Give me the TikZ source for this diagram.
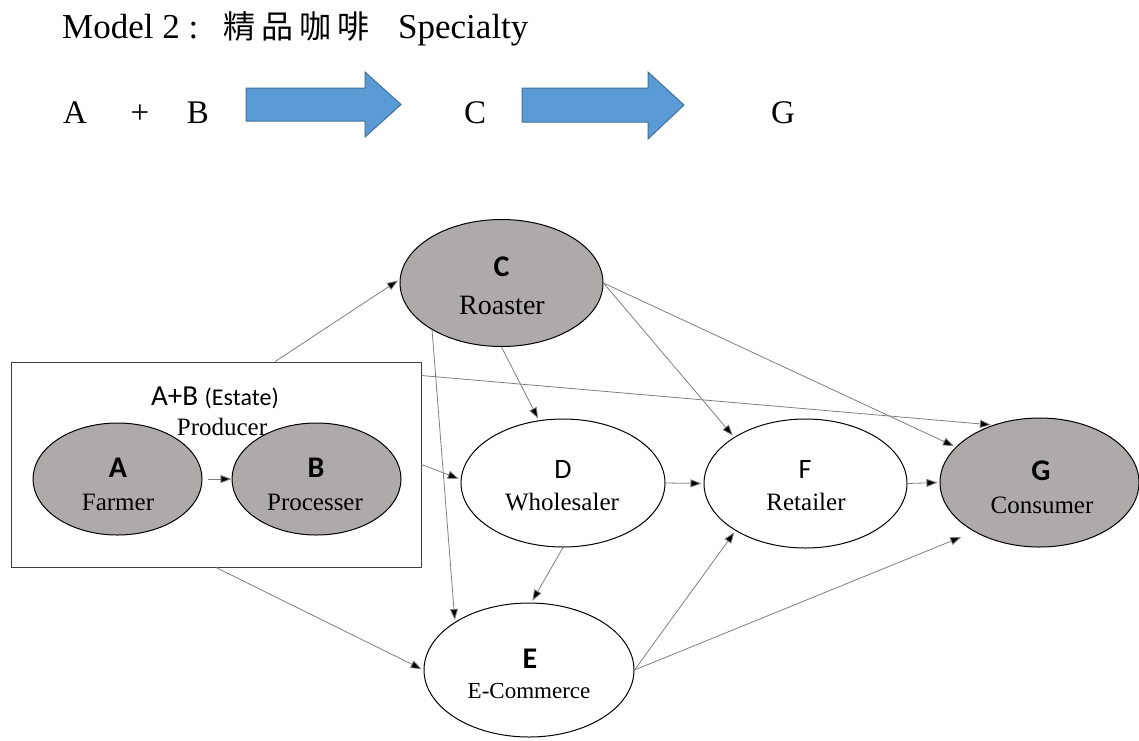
\documentclass[tikz,border=0pt]{standalone}
\usepackage{fontspec}
\setmainfont{Liberation Serif}
\newfontfamily\calibri{Carlito}
\newfontfamily\cjk{Noto Sans CJK TC}
\usetikzlibrary{arrows.meta,shapes.geometric,calc}
\definecolor{ellgrey}{HTML}{AEAAAA}
\definecolor{linegrey}{HTML}{7F7F7F}
\definecolor{boxgrey}{HTML}{3F3F3F}
\definecolor{arrowblue}{HTML}{5B9BD5}
\definecolor{arrowedge}{HTML}{41719C}
\newcommand{\cjkc}[1]{\makebox[38pt]{\cjk\fontsize{32}{32}\selectfont #1}}
\begin{document}
\begin{tikzpicture}[x=1pt,y=-1pt,
  ell/.style={ellipse,draw=black,line width=1pt,inner sep=0pt},
  shaded/.style={fill=ellgrey},
  conn/.style={draw=linegrey,line width=0.8pt,-{Triangle[length=11pt,width=8pt,fill=black]},shorten >=2pt},
  lbl/.style={anchor=base,inner sep=0pt},
  letter/.style={lbl,font=\calibri\bfseries\fontsize{30}{30}\selectfont},
  lettern/.style={lbl,font=\calibri\fontsize{28}{28}\selectfont},
  word/.style={lbl,font=\fontsize{25}{25}\selectfont},
  toprow/.style={lbl,font=\fontsize{33}{33}\selectfont},
  bigarrow/.style={fill=arrowblue,draw=arrowedge,line width=1pt,line join=miter}
]
\useasboundingbox (0,0) rectangle (1139,740);

% title and top row
\node[lbl,anchor=base west,font=\fontsize{35}{35}\selectfont] (title) at (62,38) {Model 2 :};
\node[lbl,anchor=base west] (titlecjk) at (220,38) {\cjkc{精}\cjkc{品}\cjkc{咖}\cjkc{啡}};
\node[lbl,anchor=base west,font=\fontsize{35}{35}\selectfont] (titleen) at (398,38) {Specialty};
\node[toprow] (ra) at (75,123) {A};
\node[toprow] (rplus) at (140,123) {+};
\node[toprow] (rb) at (198,123) {B};
\node[toprow] (rc) at (475,123) {C};
\node[toprow] (rg) at (783,123) {G};
\draw[bigarrow] (246,88) -- (365,88) -- (365,72) -- (401,104.5) -- (365,137) -- (365,121) -- (246,121) -- cycle;
\draw[bigarrow] (522,88) -- (648,88) -- (648,72) -- (684,105) -- (648,139) -- (648,122) -- (522,122) -- cycle;

% producer box
\node[draw=boxgrey,line width=1pt,minimum width=410pt,minimum height=205pt,inner sep=0pt] (box) at (216,464.5) {};
\node[lbl,font=\calibri\fontsize{29}{29}\selectfont] (abt) at (215,405) {A+B {\fontsize{24}{24}\selectfont(Estate)}};

% ellipses
\node[ell,shaded,minimum width=169pt,minimum height=112pt] (A) at (117.5,479) {};
\node[ell,shaded,minimum width=169pt,minimum height=112pt] (B) at (316.5,479) {};
\node[word] (prod) at (222,435) {Producer};
\node[ell,shaded,minimum width=203pt,minimum height=127pt] (C) at (501.5,283) {};
\node[ell,minimum width=204pt,minimum height=128pt] (D) at (563,483) {};
\node[ell,minimum width=203pt,minimum height=129pt] (F) at (805.5,483.5) {};
\node[ell,shaded,minimum width=199pt,minimum height=129pt] (G) at (1039.5,482.5) {};
\node[ell,minimum width=210pt,minimum height=134pt] (E) at (529,670) {};

% ellipse texts
\node[letter] (At) at (118,477) {A};
\node[word] (Aw) at (118,510) {Farmer};
\node[letter] (Bt) at (316,477) {B};
\node[word] (Bw) at (315,510) {Processer};
\node[letter] (Ct) at (501.5,276) {C};
\node[word,font=\fontsize{28}{28}\selectfont] (Cw) at (502,314) {Roaster};
\node[lettern] (Dt) at (563,478) {D};
\node[word] (Dw) at (562,510) {Wholesaler};
\node[lettern] (Ft) at (805,478) {F};
\node[word] (Fw) at (806,510) {Retailer};
\node[letter] (Gt) at (1041,480) {G};
\node[word] (Gw) at (1042,513) {Consumer};
\node[letter] (Et) at (530,668) {E};
\node[word,font=\fontsize{23}{23}\selectfont] (Ew) at (529,698) {E-Commerce};

% connectors
\coordinate (p1) at ($(box.north west)!0.644!(box.north east)$);
\coordinate (p2) at ($(box.north east)!0.068!(box.south east)$);
\coordinate (a0) at ($(A.east)+(5,0)$);
\draw[conn,shorten >=0pt] (a0) -- (B.west);
\draw[conn] (p1) -- (C.178);
\draw[conn] (p2) -- (G.129);
\draw[conn] (box.east) -- (D.178);
\draw[conn] (box.south) -- (E.west);
\draw[conn] (C.214) -- (E.147);
\draw[conn] (C.south) -- (D.111);
\draw[conn] (C.east) -- (F.147);
\draw[conn] (C.east) -- (G.157);
\draw[conn] (D.east) -- (F.west);
\draw[conn] (F.east) -- (G.west);
\draw[conn] (D.south) -- (E.88);
\draw[conn] (E.east) -- (F.214);
\draw[conn,shorten >=14pt] (E.east) -- (G.217);
\end{tikzpicture}
\end{document}
